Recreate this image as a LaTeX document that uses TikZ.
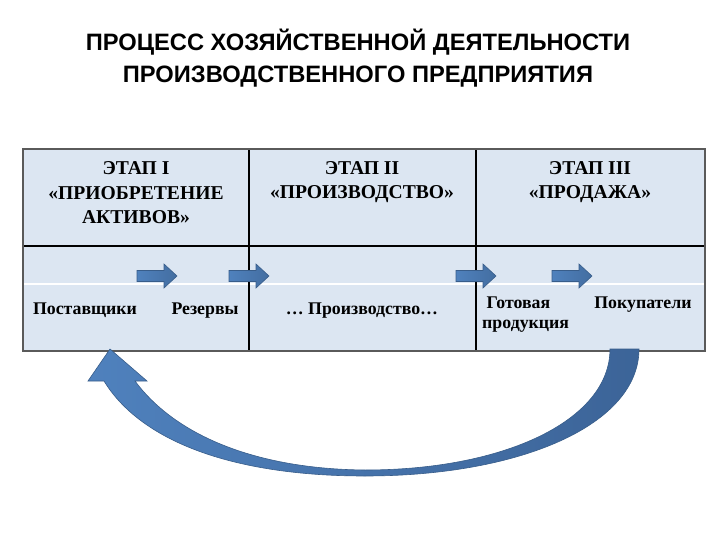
\documentclass[tikz,border=0pt]{standalone}
\usepackage{fontspec}
\setmainfont{Liberation Serif}
\newfontfamily\titlefont{Liberation Sans}
\definecolor{cellfill}{RGB}{220,230,242}
\definecolor{outerline}{RGB}{90,90,90}
\definecolor{arrowA}{RGB}{79,129,189}
\definecolor{arrowB}{RGB}{60,100,152}
\definecolor{arrowline}{RGB}{56,93,138}
\begin{document}
\begin{tikzpicture}[x=1pt,y=-1pt,
  headtxt/.style={align=center,inner sep=0pt,font=\bfseries\fontsize{19.6}{24.5}\selectfont},
  celltxt/.style={inner sep=0pt,anchor=base,font=\bfseries\fontsize{17.8}{20}\selectfont},
  innerline/.style={black,line width=2pt},
  blockarrow/.style={left color=arrowA,right color=arrowA!85!black,draw=arrowline,line width=0.6pt},
  barrow/.pic={\path[blockarrow] (0,-5.5)--(27,-5.5)--(27,-12)--(40,0)--(27,12)--(27,5.5)--(0,5.5)--cycle;}
]
\useasboundingbox (0,0) rectangle (720,540);
% title
\node[align=center,inner sep=0pt,font=\titlefont\bfseries\fontsize{23.7}{32}\selectfont] (title) at (358,58)
  {ПРОЦЕСС ХОЗЯЙСТВЕННОЙ ДЕЯТЕЛЬНОСТИ\\ПРОИЗВОДСТВЕННОГО ПРЕДПРИЯТИЯ};
% table
\fill[cellfill] (23,149) rectangle (705,351);
\draw[white,line width=1.2pt] (23,284) -- (705,284);
\draw[innerline] (23,246) -- (705,246);
\draw[innerline] (249,149) -- (249,351);
\draw[innerline] (476,149) -- (476,351);
\draw[outerline,line width=1.3pt] (23,149) rectangle (705,351);
% headers
\node[headtxt] (h1) at (136,193) {ЭТАП I\\«ПРИОБРЕТЕНИЕ\\АКТИВОВ»};
\node[headtxt] (h2) at (362,182) {ЭТАП II\\«ПРОИЗВОДСТВО»};
\node[headtxt] (h3) at (590,182) {ЭТАП III\\«ПРОДАЖА»};
% row texts
\node[celltxt] (post) at (85,314) {Поставщики};
\node[celltxt] (rez) at (205,314) {Резервы};
\node[celltxt] (proizv) at (362,314) {…\ Производство…};
\node[celltxt,align=left,anchor=base west] (gotov) at (482,328) {\ Готовая\\продукция};
\node[celltxt] (pokup) at (643,308) {Покупатели};
% small arrows
\pic at (137,276) {barrow};
\pic at (229,276) {barrow};
\pic at (456,276) {barrow};
\pic at (552,276) {barrow};
% big curved arrow
\path[left color=arrowA,right color=arrowB,draw=arrowline,line width=0.6pt]
  (110,349) -- (147,381) -- (135,381)
  .. controls (175,435) and (255,469) .. (365,470)
  .. controls (505,470) and (610,420) .. (610,349)
  -- (639,349)
  .. controls (639,425) and (520,476) .. (365,476)
  .. controls (230,476) and (140,440) .. (104,381)
  -- (88,381) -- cycle;
\end{tikzpicture}
\end{document}
